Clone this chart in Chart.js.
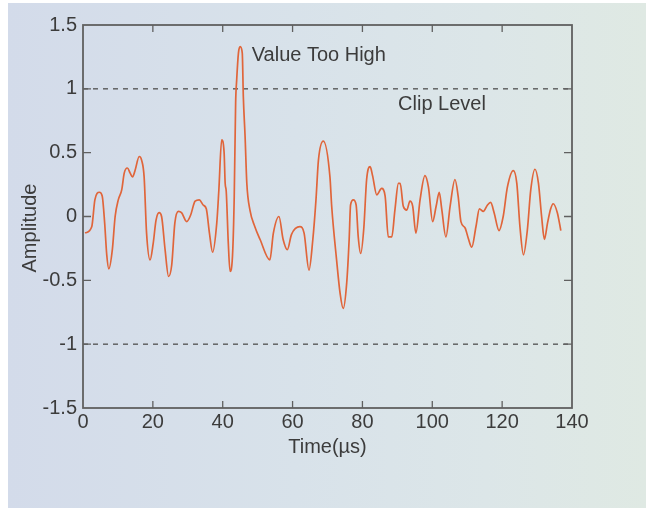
<!DOCTYPE html>
<html lang="en">

<head>
    <meta charset="UTF-8">
    <script src="https://cdn.jsdelivr.net/npm/chart.js@4.4.0/dist/chart.umd.min.js"></script>
    <title>Clip Level</title>
</head>

<body style="margin: 0; background: #fff;">
    <div style="position: relative; width: 646px; height: 508px;">
        <div style="position: absolute; left: 8px; top: 3px; right: 0; bottom: 0;
            background: linear-gradient(to right, #d3dbea 0%, #d8e2ea 45%, #dce6e8 75%, #dfe9e3 100%);"></div>
        <canvas id="myChart" width="646" height="508" style="position: absolute; left: 0; top: 0;"></canvas>
    </div>
    <script>
        // signal: time in µs, amplitude
        const times = [0.6, 2.5, 3.4, 4.7, 5.5, 6.2, 6.8, 7.4, 8.4, 9.2, 10.1, 11.1, 11.8, 12.7, 13.5, 14.2, 14.9,
            16.1, 16.8, 17.5, 18.2, 19.2, 20.1, 20.9, 21.8, 22.5, 23.5, 24.5, 25.4, 26.3, 27.3, 28.2, 29.7, 30.8,
            32.1, 33.3, 34.4, 35.3, 36.2, 37.1, 38.3, 38.9, 39.7, 40.4, 40.7, 41.0, 41.6, 42.1, 42.8, 43.3, 43.7,
            44.0, 44.5, 45.0, 45.6, 45.9, 46.4, 46.9, 47.8, 49.2, 50.7, 53.5, 54.5, 56.1, 57.3, 58.5, 59.7, 62.1,
            63.3, 64.7, 65.8, 66.7, 67.4, 68.8, 70.7, 71.2, 72.6, 73.6, 74.5, 75.5, 76.2, 76.6, 77.4, 78.2, 78.8,
            79.5, 80.4, 81.2, 82.2, 82.9, 84.1, 85.5, 86.5, 87.4, 88.4, 89.3, 90.3, 90.8, 91.7, 92.7, 93.6, 94.4,
            95.3, 96.5, 97.9, 98.9, 100.1, 101.1, 102.0, 102.7, 103.9, 105.1, 106.5, 107.4, 108.2, 109.4, 110.3,
            111.3, 112.5, 113.5, 114.6, 115.8, 116.7, 117.7, 119.1, 120.3, 121.5, 123.2, 124.2, 125.1, 126.1,
            127.2, 128.2, 129.4, 130.4, 131.3, 132.1, 133.0, 133.9, 134.6, 135.8, 136.8];
        const amplitude = [-0.13, -0.08, 0.13, 0.19, 0.16, -0.05, -0.3, -0.41, -0.26, 0, 0.13, 0.21, 0.34, 0.38,
            0.34, 0.31, 0.36, 0.47, 0.44, 0.31, -0.13, -0.34, -0.21, -0.03, 0.03, 0, -0.26, -0.47, -0.38, -0.05,
            0.04, 0.03, -0.04, 0.01, 0.12, 0.13, 0.09, 0.06, -0.13, -0.28, -0.05, 0.21, 0.6, 0.5, 0.26, 0.2, -0.21,
            -0.43, -0.31, 0.16, 0.89, 1.07, 1.28, 1.33, 1.28, 0.94, 0.63, 0.26, 0.05, -0.08, -0.18, -0.34, -0.13,
            0, -0.18, -0.26, -0.14, -0.08, -0.13, -0.42, -0.18, 0.13, 0.44, 0.59, 0.31, 0.08, -0.34, -0.6, -0.72,
            -0.52, -0.18, 0.09, 0.13, 0.09, -0.16, -0.29, -0.09, 0.29, 0.39, 0.32, 0.17, 0.22, 0.16, -0.16, -0.16,
            0.05, 0.26, 0.26, 0.08, 0.05, 0.12, 0.08, -0.13, 0.13, 0.32, 0.23, -0.04, 0.08, 0.19, 0.06, -0.16, 0.08,
            0.29, 0.16, -0.04, -0.09, -0.17, -0.24, -0.08, 0.06, 0.04, 0.09, 0.11, 0.03, -0.11, 0, 0.23, 0.36, 0.26,
            -0.08, -0.3, -0.11, 0.21, 0.37, 0.26, 0, -0.18, -0.05, 0.06, 0.1, 0.03, -0.11];
        const clipLevels = [1, -1];
        const xTicks = [0, 20, 40, 60, 80, 100, 120, 140];
        const xTickLabels = ['0', '20', '40', '60', '80', '100', '120', '140'];
        const yTicks = [-1.5, -1, -0.5, 0, 0.5, 1, 1.5];
        const yTickLabels = ['-1.5', '-1', '-0.5', '0', '0.5', '1', '1.5'];
        const notes = [
            { text: 'Value Too High', x: 48.3, y: 1.26 },
            { text: 'Clip Level', x: 90.2, y: 0.875 }
        ];

        const font = '"Liberation Sans", Arial, sans-serif';
        const textColor = '#3c3c3c';
        const axisColor = '#606060';

        const signal = times.map((t, i) => ({ x: t, y: amplitude[i] }));
        const clipSets = clipLevels.map(level => ({
            data: [{ x: 0, y: level }, { x: 140, y: level }],
            borderColor: '#505050',
            borderWidth: 1.3,
            borderDash: [5, 5],
            pointRadius: 0
        }));

        // box, inward ticks, notes and rotated y title
        const frame = {
            id: 'frame',
            afterDraw(chart) {
                const c = chart.ctx;
                const a = chart.chartArea;
                const xs = chart.scales.x;
                const ys = chart.scales.y;
                c.save();
                c.strokeStyle = axisColor;
                c.lineWidth = 1.8;
                c.strokeRect(a.left, a.top, a.right - a.left, a.bottom - a.top);
                c.lineWidth = 1.3;
                c.beginPath();
                xTicks.slice(1, -1).forEach(v => {
                    const px = xs.getPixelForValue(v);
                    c.moveTo(px, a.bottom); c.lineTo(px, a.bottom - 7);
                    c.moveTo(px, a.top); c.lineTo(px, a.top + 7);
                });
                yTicks.slice(1, -1).forEach(v => {
                    const py = ys.getPixelForValue(v);
                    c.moveTo(a.left, py); c.lineTo(a.left + 8, py);
                    c.moveTo(a.right, py); c.lineTo(a.right - 8, py);
                });
                c.stroke();

                c.fillStyle = textColor;
                c.font = '20px ' + font;
                c.textBaseline = 'middle';
                c.textAlign = 'left';
                notes.forEach(n => {
                    c.fillText(n.text, xs.getPixelForValue(n.x), ys.getPixelForValue(n.y));
                });

                c.translate(30, 228);
                c.rotate(-Math.PI / 2);
                c.textAlign = 'center';
                c.fillText('Amplitude', 0, 0);
                c.restore();
            }
        };

        var ctx = document.getElementById('myChart').getContext('2d');
        var myChart = new Chart(ctx, {
            type: 'line',
            data: {
                datasets: [{
                    data: signal,
                    borderColor: '#e0653a',
                    borderWidth: 1.7,
                    pointRadius: 0,
                    cubicInterpolationMode: 'monotone'
                }, ...clipSets]
            },
            options: {
                responsive: false,
                animation: false,
                layout: {
                    padding: { left: 20, right: 74, top: 25, bottom: 49 }
                },
                plugins: {
                    legend: { display: false },
                    tooltip: { enabled: false }
                },
                scales: {
                    x: {
                        type: 'linear',
                        min: 0,
                        max: 140,
                        afterFit: s => { s.height = 51; },
                        afterBuildTicks: s => { s.ticks = xTicks.map(v => ({ value: v })); },
                        grid: { display: false, drawTicks: false },
                        border: { display: false },
                        ticks: {
                            color: textColor,
                            font: { family: font, size: 20 },
                            padding: 2,
                            maxRotation: 0,
                            callback: v => xTickLabels[xTicks.indexOf(v)]
                        },
                        title: {
                            display: true,
                            text: 'Time(\u00b5s)',
                            color: textColor,
                            font: { family: font, size: 20 },
                            padding: { top: 0, bottom: 0 }
                        }
                    },
                    y: {
                        type: 'linear',
                        min: -1.5,
                        max: 1.5,
                        afterFit: s => { s.width = 63; },
                        afterBuildTicks: s => { s.ticks = yTicks.map(v => ({ value: v })); },
                        grid: { display: false, drawTicks: false },
                        border: { display: false },
                        ticks: {
                            color: textColor,
                            font: { family: font, size: 20 },
                            padding: 6,
                            callback: v => yTickLabels[yTicks.indexOf(v)]
                        }
                    }
                }
            },
            plugins: [frame]
        });
    </script>
</body>

</html>
